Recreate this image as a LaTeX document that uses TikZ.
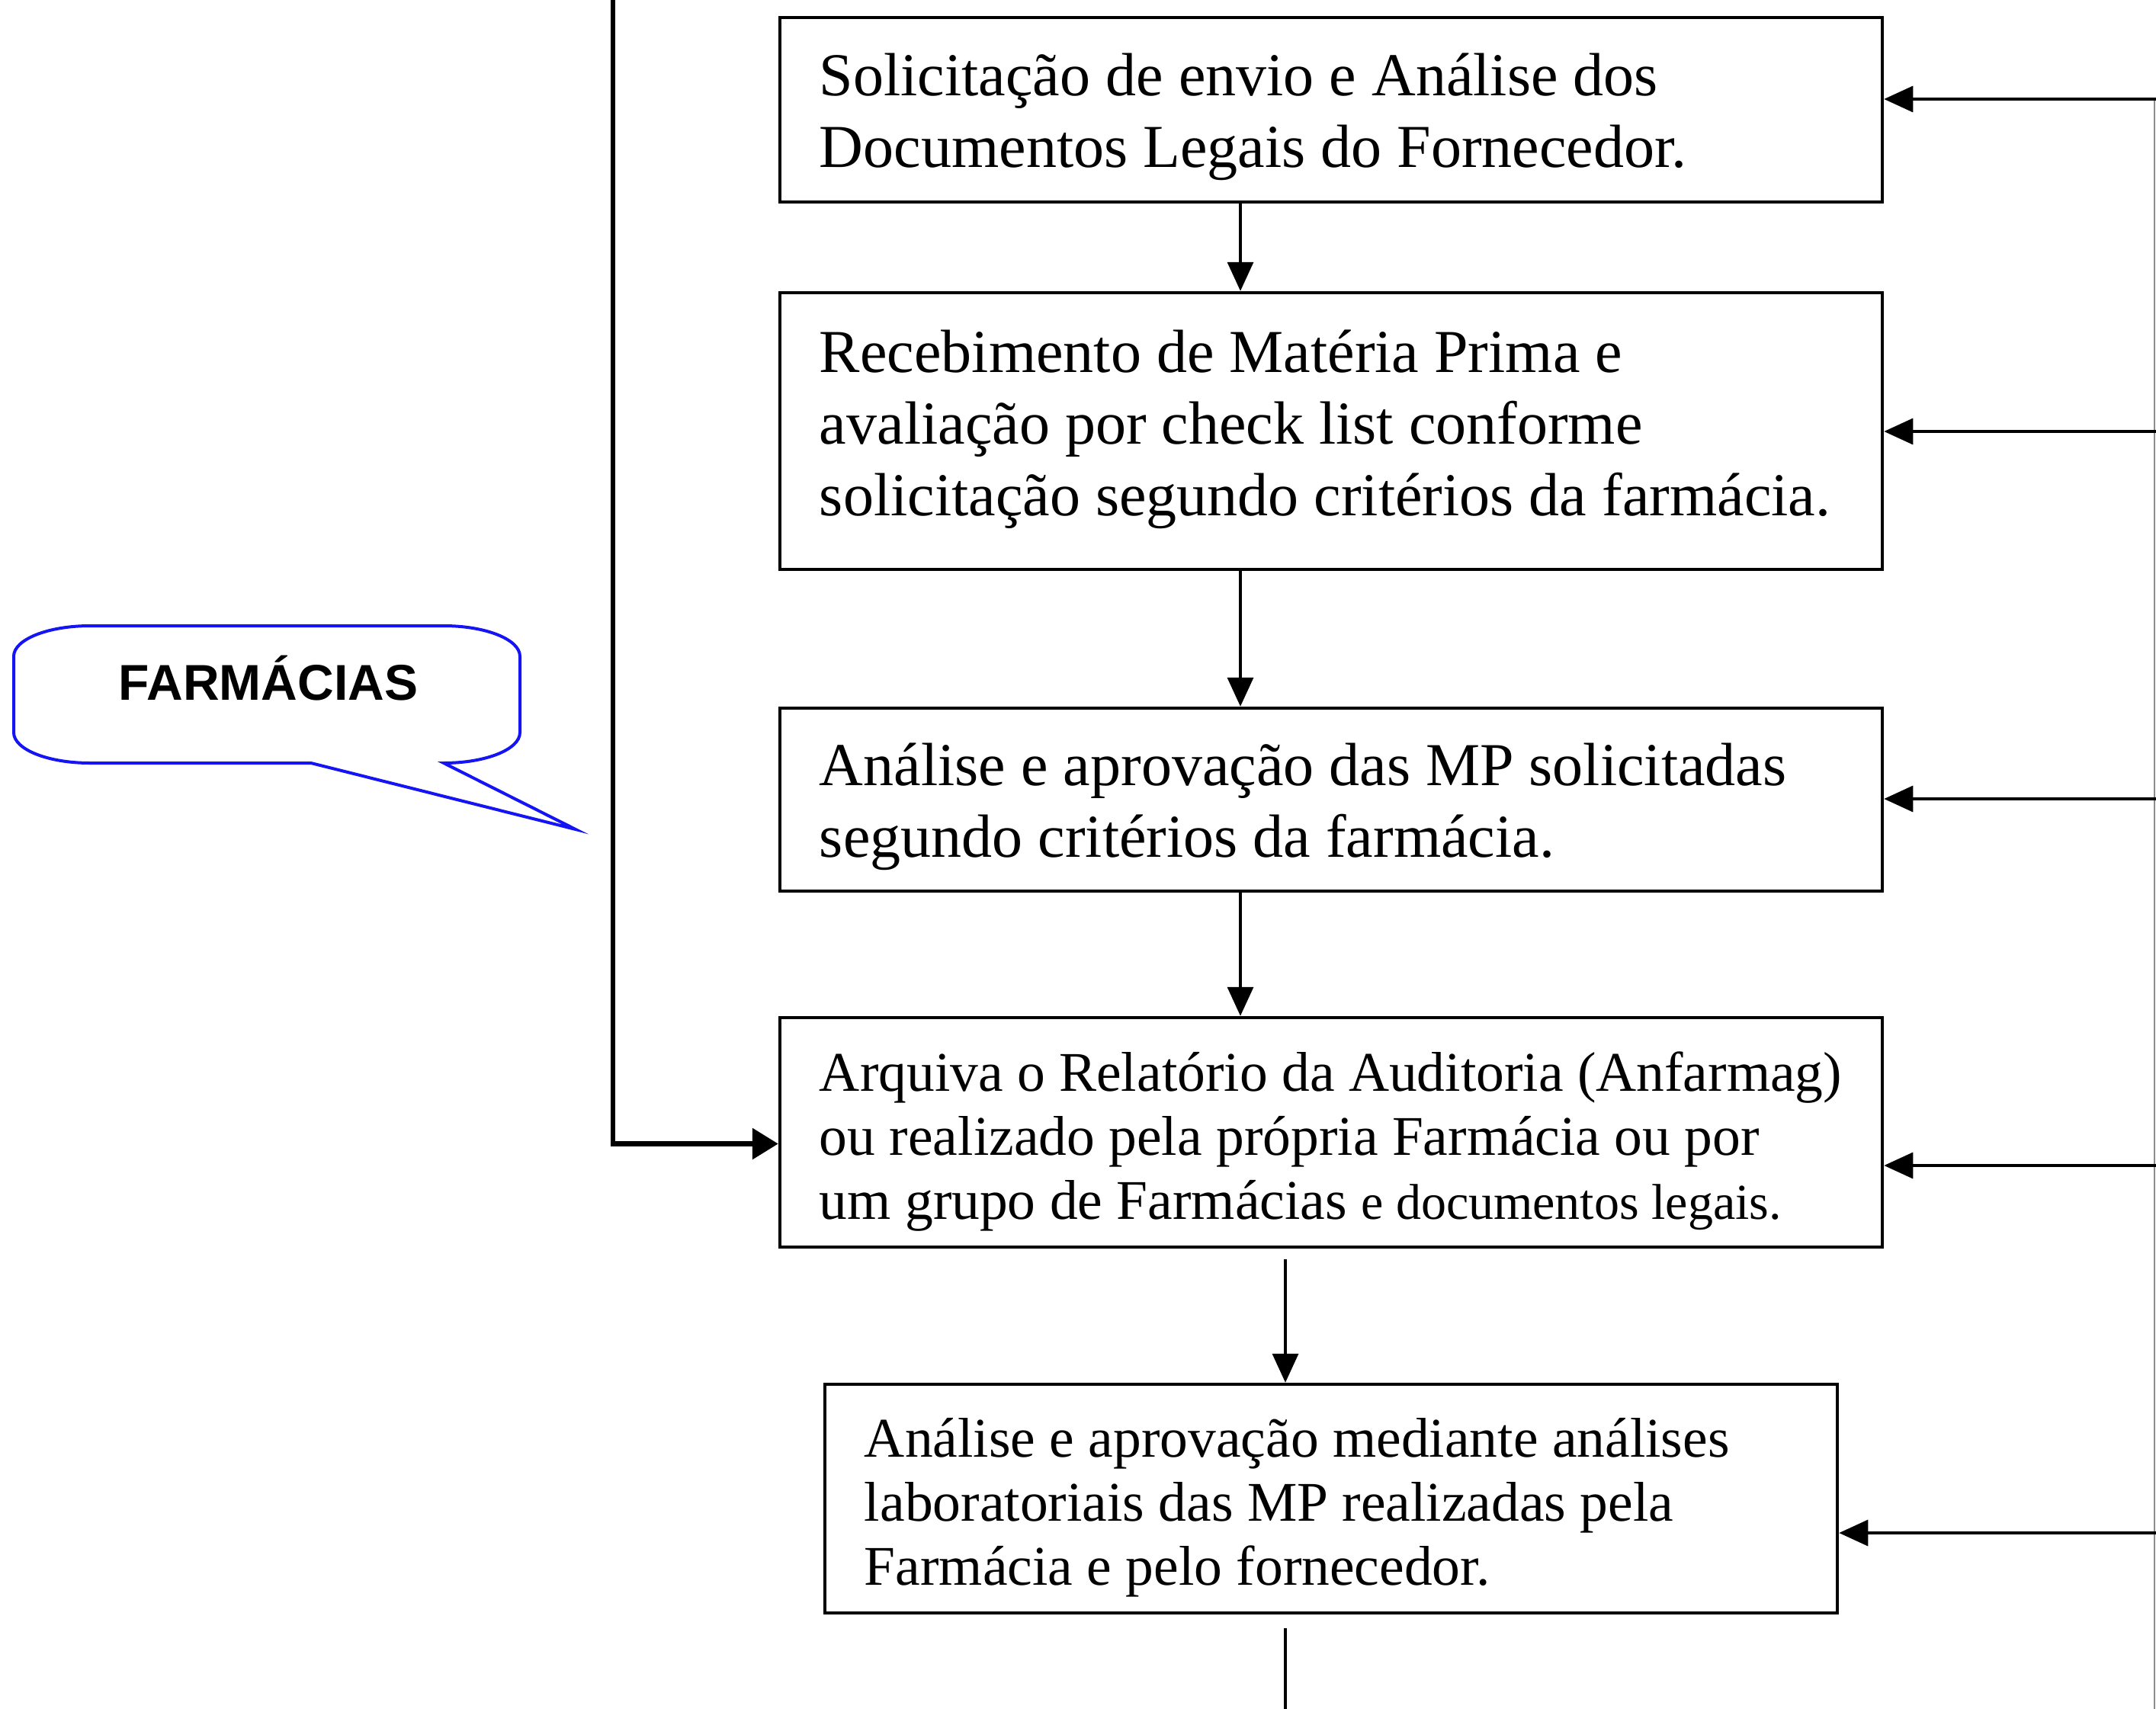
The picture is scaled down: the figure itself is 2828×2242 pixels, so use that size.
\documentclass[tikz,border=0pt]{standalone}
\usepackage{fontspec}
\setmainfont{Liberation Serif}
\newfontfamily\arialfont{Liberation Sans}
\usetikzlibrary{arrows.meta,calc}
\definecolor{callblue}{RGB}{20,20,245}
\tikzset{
  stepbox/.style={draw=black, line width=4.5pt, inner sep=0pt},
  boxtext/.style={align=left, inner sep=0pt, anchor=west},
  bigtext/.style={font=\fontsize{80}{94}\selectfont},
  smalltext/.style={font=\fontsize{73.5}{84}\selectfont},
  arr/.style={line width=3.5pt, -{Triangle[length=38pt,width=34pt]}},
  thickarr/.style={line width=6.5pt, -{Triangle[length=34pt,width=40pt]}},
  callout/.style={draw=callblue, line width=4pt, line join=miter}
}
\begin{document}
\begin{tikzpicture}[x=1pt,y=-1pt]
\useasboundingbox (0,0) rectangle (2828,2242);

\node[stepbox,minimum width=1446pt,minimum height=242pt] (b1) at (1746,144) {};
\node[stepbox,minimum width=1446pt,minimum height=363pt] (b2) at (1746,565.5) {};
\node[stepbox,minimum width=1446pt,minimum height=240pt] (b3) at (1746,1049) {};
\node[stepbox,minimum width=1446pt,minimum height=301pt] (b4) at (1746,1485.5) {};
\node[stepbox,minimum width=1328pt,minimum height=300pt] (b5) at (1746,1966) {};

\node[boxtext,bigtext] (t1) at ([xshift=54pt,yshift=-9pt]b1.west)
  {Solicitação de envio e Análise dos\\Documentos Legais do Fornecedor.};
\node[boxtext,bigtext] (t2) at ([xshift=54pt,yshift=2pt]b2.west)
  {Recebimento de Matéria Prima e\\avaliação por check list conforme\\solicitação segundo critérios da farmácia.};
\node[boxtext,bigtext] (t3) at ([xshift=54pt,yshift=-9pt]b3.west)
  {Análise e aprovação das MP solicitadas\\segundo critérios da farmácia.};
\node[boxtext,smalltext] (t4) at ([xshift=54pt,yshift=-12pt]b4.west)
  {Arquiva o Relatório da Auditoria (Anfarmag)\\ou realizado pela própria Farmácia ou por\\um grupo de Farmácias {\fontsize{66}{84}\selectfont e documentos legais.}};
\node[boxtext,smalltext] (t5) at ([xshift=54pt,yshift=-12pt]b5.west)
  {Análise e aprovação mediante análises\\laboratoriais das MP realizadas pela\\Farmácia e pelo fornecedor.};

% vertical flow
\draw[arr] ([xshift=-119pt]b1.south) -- ([xshift=-119pt]b2.north);
\draw[arr] ([xshift=-119pt]b2.south) -- ([xshift=-119pt]b3.north);
\draw[arr] ([xshift=-119pt]b3.south) -- ([xshift=-119pt]b4.north);
\draw[arr] ([xshift=-60pt,yshift=-14pt]b4.south) -- ([xshift=-60pt]b5.north);
\coordinate (bend) at (1686,2242);
\draw[line width=3.5pt] ([xshift=-60pt,yshift=-18pt]b5.south) -- (bend);

% left feed line
\coordinate (ltop) at (804,0);
\draw[thickarr] (ltop) |- ([yshift=-15pt]b4.west);

% right feedback lines
\coordinate (rtop) at (2826,130);
\coordinate (rbot) at (2826,2242);
\draw[line width=2pt, black!45] (rtop) -- (rbot);
\coordinate (r1) at (2828,130);
\coordinate (r2) at (2828,566);
\coordinate (r3) at (2828,1048);
\coordinate (r4) at (2828,1529);
\coordinate (r5) at (2828,2011);
\draw[arr] (r1) -- (r1 -| b1.east);
\draw[arr] (r2) -- (r2 -| b2.east);
\draw[arr] (r3) -- (r3 -| b3.east);
\draw[arr] (r4) -- (r4 -| b4.east);
\draw[arr] (r5) -- (r5 -| b5.east);

% callout
\draw[callout] (408,1001) -- (118,1001)
  arc[start angle=90,end angle=180,x radius=100,y radius=40] -- (18,861)
  arc[start angle=180,end angle=270,x radius=100,y radius=40] -- (582,821)
  arc[start angle=270,end angle=360,x radius=100,y radius=40] -- (682,961)
  arc[start angle=0,end angle=90,x radius=100,y radius=40]
  -- (755,1088) -- cycle;
\node[font=\arialfont\bfseries\fontsize{66}{70}\selectfont, inner sep=0pt] (farm) at (352,890) {FARMÁCIAS};
\end{tikzpicture}
\end{document}
